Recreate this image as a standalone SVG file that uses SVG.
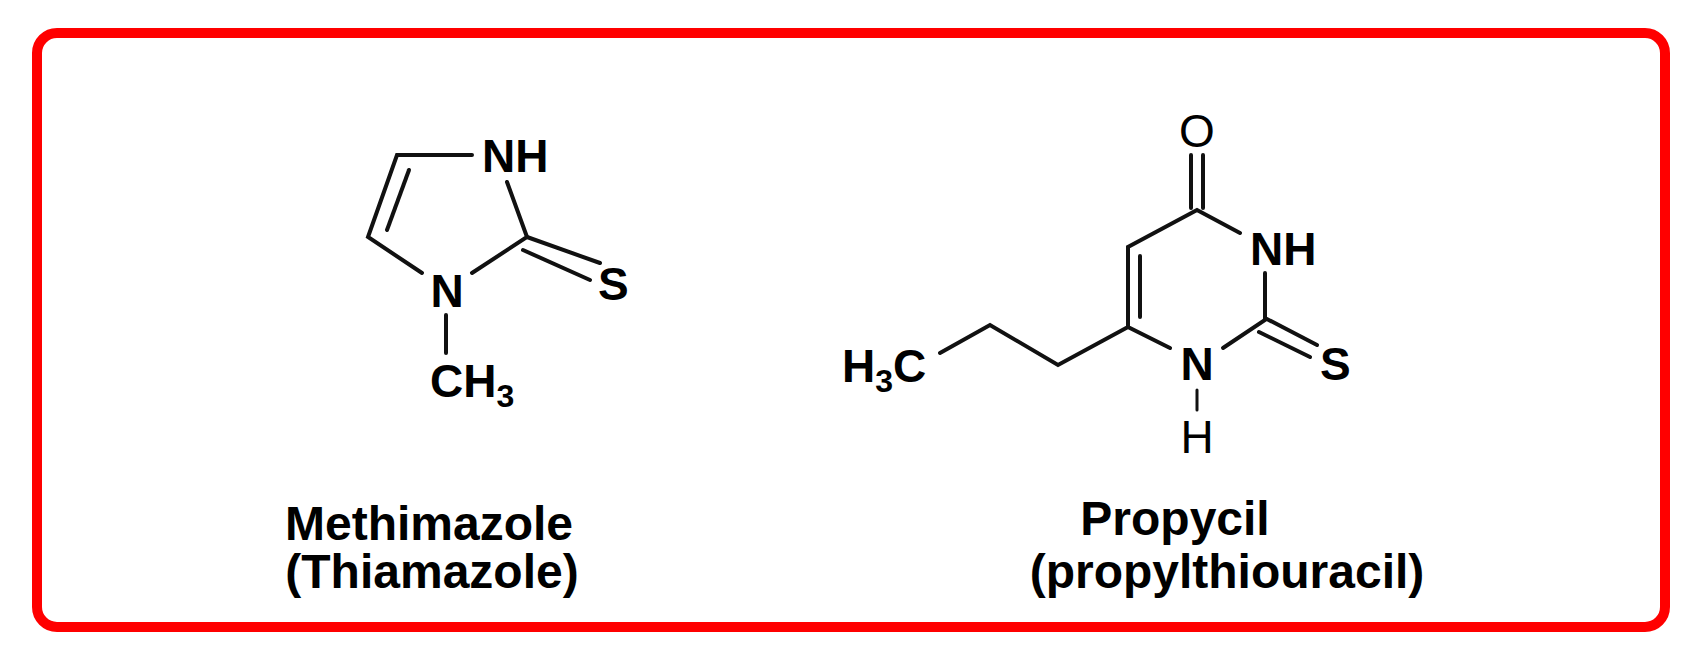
<svg xmlns="http://www.w3.org/2000/svg" width="1702" height="662" viewBox="0 0 1702 662">
<style>
.b{stroke:#111;stroke-width:4;fill:none;stroke-linecap:round}
.a{font-family:"Liberation Sans",Arial,sans-serif;font-size:46px;font-weight:bold;fill:#000}
.r{font-weight:normal}
.s{font-size:32px}
.l{font-family:"Liberation Sans",Arial,sans-serif;font-size:48px;font-weight:bold;fill:#000}
</style>
<rect x="37" y="33" width="1628" height="594" rx="20" fill="#fff" stroke="#ff0000" stroke-width="10"/>
<g id="connectors">
<path class="b" d="M472 155 L397 155 L368 237 L422 273"/>
<path class="b" d="M409 170 L387 230"/>
<path class="b" d="M507 182 L527 237 L472 273"/>
<path class="b" d="M527 237 L600 263 M523 250 L590 280"/>
<path class="b" d="M446 315 L446 353"/>
<path class="b" d="M1191 155 L1191 208 M1203 155 L1203 208"/>
<path class="b" d="M1240 233 L1197 210 L1128 247 L1128 327 L1170 348"/>
<path class="b" d="M1140 256 L1140 317"/>
<path class="b" d="M1128 327 L1058 365 L990 325 L940 353"/>
<path class="b" d="M1265 273 L1265 320 L1223 348"/>
<path class="b" d="M1265 318 L1317 345 M1259 332 L1310 357"/>
<path class="b" d="M1197 390 L1197 410" style="stroke-width:3"/>
</g>
<g id="methimazole">
<text class="a" x="482" y="172">NH</text>
<text class="a" x="447" y="307" text-anchor="middle">N</text>
<text class="a" x="598" y="300">S</text>
<text class="a" x="430" y="397">CH<tspan class="s" dy="10">3</tspan></text>
<text class="l" x="429" y="540" text-anchor="middle">Methimazole</text>
<text class="l" x="432" y="588" text-anchor="middle">(Thiamazole)</text>
</g>
<g id="propylthiouracil">
<text class="a r" x="1197" y="147" text-anchor="middle">O</text>
<text class="a" x="1250" y="265">NH</text>
<text class="a" x="1197" y="380" text-anchor="middle">N</text>
<text class="a r" x="1197" y="453" text-anchor="middle">H</text>
<text class="a" x="1320" y="380">S</text>
<text class="a" x="842" y="382">H<tspan class="s" dy="10">3</tspan><tspan dy="-10">C</tspan></text>
<text class="l" x="1175" y="535" text-anchor="middle">Propycil</text>
<text class="l" x="1227" y="588" text-anchor="middle">(propylthiouracil)</text>
</g>
</svg>
